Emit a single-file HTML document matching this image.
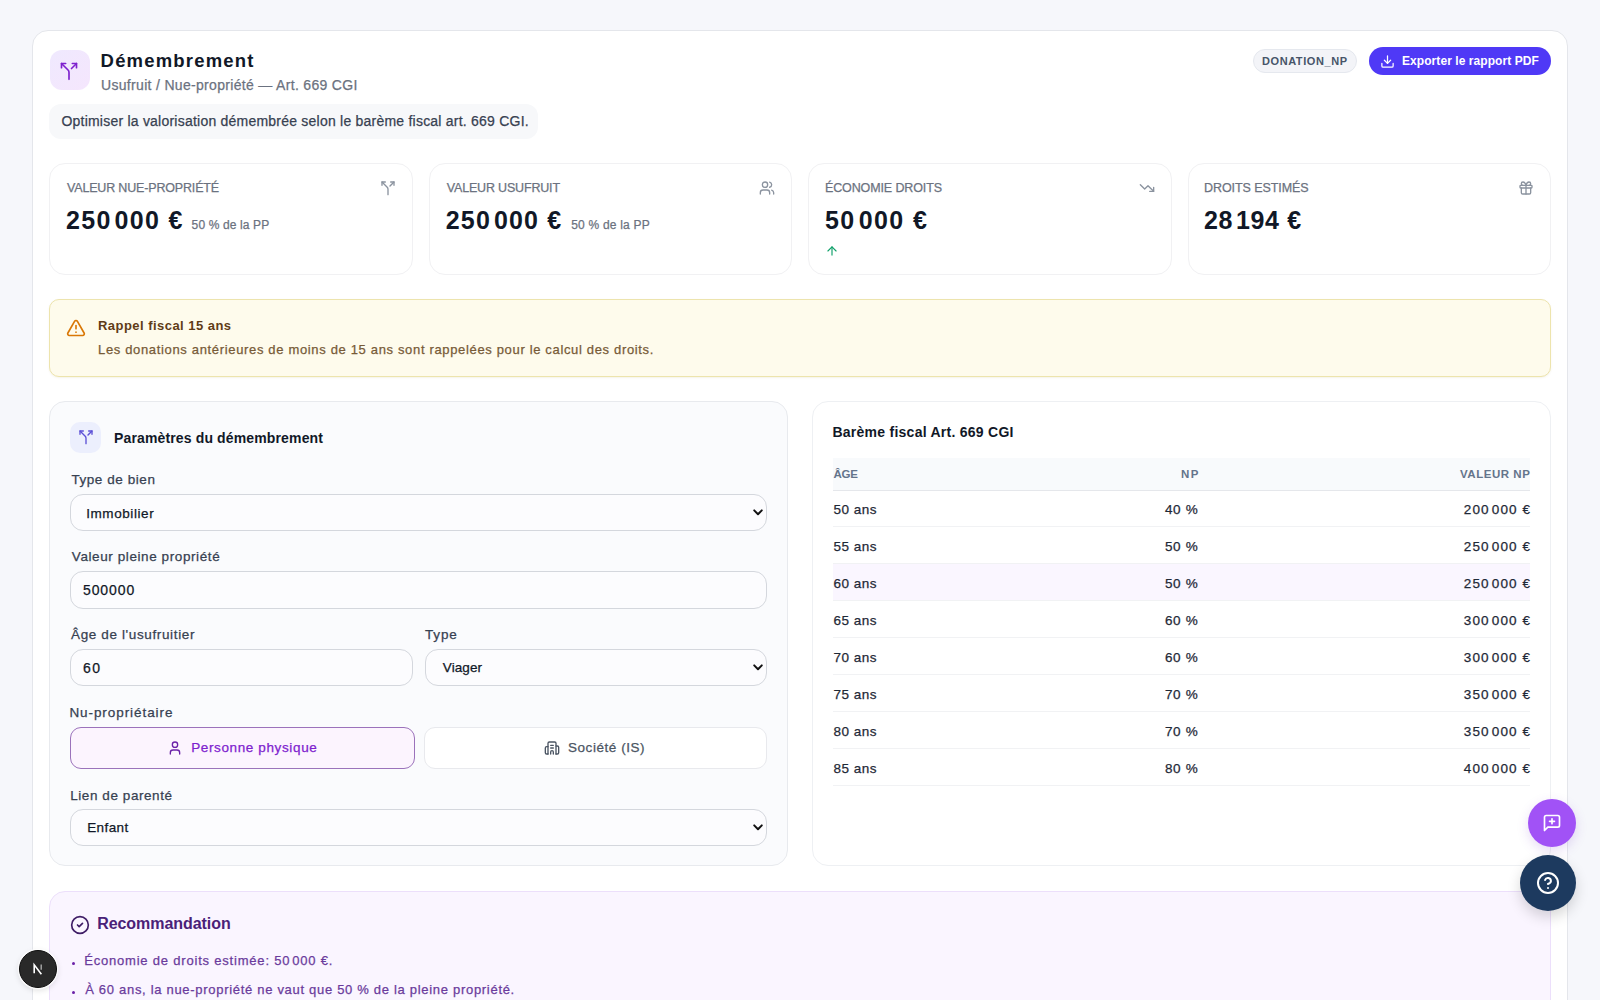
<!DOCTYPE html>
<html lang="fr">
<head>
<meta charset="utf-8">
<title>Démembrement</title>
<style>
*{box-sizing:border-box;margin:0;padding:0}
html,body{width:1600px;height:1000px;overflow:hidden}
body{background:#f6f7fb;font-family:"Liberation Sans",sans-serif;color:#111827;position:relative}
.a{position:absolute}
svg{display:block;position:absolute;overflow:visible}
.t{position:absolute;line-height:1;white-space:nowrap}
.t.m{-webkit-text-stroke:0.25px currentColor}
.t i.ns{display:inline-block;width:3px}
.t i.ns2{display:inline-block;width:2px}
.main{left:32px;top:30px;width:1536px;height:1010px;background:#fff;border:1px solid #e4e6eb;border-radius:16px}
.hicon{left:50px;top:50px;width:40px;height:40px;border-radius:12px;background:linear-gradient(135deg,#efe9fe,#f5e6fd)}
.pill{left:49px;top:103.5px;width:489px;height:35px;border-radius:12px;background:#f7f8fa}
.badge{left:1253px;top:49px;width:104px;height:24px;border-radius:12px;background:#f3f4f8;border:1px solid #e5e8ee}
.export{left:1369px;top:47px;width:182px;height:28px;border-radius:14px;background:#4f39f6}
.kpi{top:163px;width:363.5px;height:112px;border:1px solid #f1f1f3;border-radius:16px;background:#fff}
.alert{left:49px;top:299px;width:1502px;height:78px;background:#fefbec;border:1px solid #ede4ad;border-radius:10px;box-shadow:0 1px 2px rgba(160,140,40,.10)}
.params{left:49px;top:401px;width:739px;height:465px;background:#fafbfd;border:1px solid #e8eaee;border-radius:16px}
.picon{left:70px;top:422px;width:31px;height:31px;border-radius:10px;background:#eceffd}
.field{background:#fcfcfe;border:1px solid #d4d7dd;border-radius:13px}
.btn{border:1px solid #e8e9ed;background:#fff;border-radius:11px}
.btn.on{border-color:#9b72bb;background:#fcf4fe}
.table{left:812px;top:401px;width:739px;height:465px;background:#fff;border:1px solid #eef0f3;border-radius:16px}
.thead{left:833px;top:458px;width:697px;height:33px;background:#f8fafc;border-bottom:1px solid #e5e7eb}
.row{left:833px;width:697px;height:37px;border-bottom:1px solid #f1f2f4}
.row.hl{background:#faf6ff}
.reco{left:49px;top:891px;width:1502px;height:150px;background:#faf5ff;border:1px solid #ecdffb;border-radius:16px}
.dot{width:3px;height:3px;border-radius:50%;background:#6b21a8}
.fab1{left:1528px;top:799px;width:48px;height:48px;border-radius:50%;background:#a152f6;box-shadow:0 4px 12px rgba(120,60,200,.18)}
.fab2{left:1520px;top:855px;width:56px;height:56px;border-radius:50%;background:#1d3a5f;box-shadow:0 6px 14px rgba(0,0,0,.16)}
.nx{left:19px;top:950px;width:38px;height:38px;border-radius:50%;background:#292929;border:1px solid #0d0d0d;box-shadow:0 0 0 1.5px rgba(255,255,255,.7),0 2px 6px rgba(0,0,0,.15)}
</style>
</head>
<body>
<div class="a main"></div>

<div class="a hicon"></div>
<svg style="left:59px;top:60.5px" width="20" height="20" viewBox="0 0 24 24" fill="none" stroke="#7e22ce" stroke-width="2" stroke-linecap="round" stroke-linejoin="round"><path d="M16 3h5v5"/><path d="M8 3H3v5"/><path d="M12 22v-8.3a4 4 0 0 0-1.172-2.872L3 3"/><path d="m15 9 6-6"/></svg>
<div class="a pill"></div>
<div class="a badge"></div>
<div class="a export"></div>
<svg style="left:1380px;top:54px" width="15" height="15" viewBox="0 0 24 24" fill="none" stroke="#fff" stroke-width="2" stroke-linecap="round" stroke-linejoin="round"><path d="M21 15v4a2 2 0 0 1-2 2H5a2 2 0 0 1-2-2v-4"/><path d="m7 10 5 5 5-5"/><path d="M12 15V3"/></svg>

<div class="a kpi" style="left:49px"></div>
<div class="a kpi" style="left:428.5px"></div>
<div class="a kpi" style="left:808px"></div>
<div class="a kpi" style="left:1187.5px"></div>
<svg style="left:379.5px;top:179.5px" width="16" height="16" viewBox="0 0 24 24" fill="none" stroke="#8b939f" stroke-width="2" stroke-linecap="round" stroke-linejoin="round"><path d="M16 3h5v5"/><path d="M8 3H3v5"/><path d="M12 22v-8.3a4 4 0 0 0-1.172-2.872L3 3"/><path d="m15 9 6-6"/></svg>
<svg style="left:759.2px;top:179.8px" width="16" height="16" viewBox="0 0 24 24" fill="none" stroke="#8b939f" stroke-width="2" stroke-linecap="round" stroke-linejoin="round"><path d="M16 21v-2a4 4 0 0 0-4-4H6a4 4 0 0 0-4 4v2"/><circle cx="9" cy="7" r="4"/><path d="M22 21v-2a4 4 0 0 0-3-3.87"/><path d="M16 3.13a4 4 0 0 1 0 7.75"/></svg>
<svg style="left:1138.6px;top:179.8px" width="16" height="16" viewBox="0 0 24 24" fill="none" stroke="#8b939f" stroke-width="2" stroke-linecap="round" stroke-linejoin="round"><path d="m22 17-8.5-8.5-5 5L2 7"/><path d="M16 17h6v-6"/></svg>
<svg style="left:1518px;top:179.5px" width="16" height="16" viewBox="0 0 24 24" fill="none" stroke="#8b939f" stroke-width="2" stroke-linecap="round" stroke-linejoin="round"><rect x="3" y="8" width="18" height="4" rx="1"/><path d="M12 8v13"/><path d="M19 12v7a2 2 0 0 1-2 2H7a2 2 0 0 1-2-2v-7"/><path d="M7.5 8a2.5 2.5 0 0 1 0-5A4.8 8 0 0 1 12 8a4.8 8 0 0 1 4.5-5 2.5 2.5 0 0 1 0 5"/></svg>
<svg style="left:825px;top:243.8px" width="14" height="14" viewBox="0 0 24 24" fill="none" stroke="#10a06a" stroke-width="2" stroke-linecap="round" stroke-linejoin="round"><path d="m5 12 7-7 7 7"/><path d="M12 19V5"/></svg>

<div class="a alert"></div>
<svg style="left:66px;top:317.7px" width="20" height="20" viewBox="0 0 24 24" fill="none" stroke="#d97706" stroke-width="2" stroke-linecap="round" stroke-linejoin="round"><path d="m21.73 18-8-14a2 2 0 0 0-3.48 0l-8 14A2 2 0 0 0 4 21h16a2 2 0 0 0 1.73-3"/><path d="M12 9v4"/><path d="M12 17h.01"/></svg>

<div class="a params"></div>
<div class="a picon"></div>
<svg style="left:77.5px;top:429.3px" width="16" height="16" viewBox="0 0 24 24" fill="none" stroke="#5b4fd6" stroke-width="2" stroke-linecap="round" stroke-linejoin="round"><path d="M16 3h5v5"/><path d="M8 3H3v5"/><path d="M12 22v-8.3a4 4 0 0 0-1.172-2.872L3 3"/><path d="m15 9 6-6"/></svg>
<div class="a field" style="left:70px;top:494px;width:697px;height:37px"></div>
<div class="a field" style="left:70px;top:571px;width:697px;height:38px"></div>
<div class="a field" style="left:70px;top:649px;width:342.5px;height:36.5px"></div>
<div class="a field" style="left:425px;top:649px;width:342px;height:36.5px"></div>
<div class="a field" style="left:70px;top:809px;width:697px;height:37px"></div>
<svg style="left:753px;top:508.5px" width="10" height="7" viewBox="0 0 10 7" fill="none" stroke="#111" stroke-width="2" stroke-linecap="round" stroke-linejoin="round"><path d="M1.2 1.4 5 5.2 8.8 1.4"/></svg>
<svg style="left:753px;top:664px" width="10" height="7" viewBox="0 0 10 7" fill="none" stroke="#111" stroke-width="2" stroke-linecap="round" stroke-linejoin="round"><path d="M1.2 1.4 5 5.2 8.8 1.4"/></svg>
<svg style="left:753px;top:824px" width="10" height="7" viewBox="0 0 10 7" fill="none" stroke="#111" stroke-width="2" stroke-linecap="round" stroke-linejoin="round"><path d="M1.2 1.4 5 5.2 8.8 1.4"/></svg>
<div class="a btn on" style="left:70px;top:727px;width:345px;height:42px"></div>
<div class="a btn" style="left:423.5px;top:727px;width:343.5px;height:41.5px"></div>
<svg style="left:167.3px;top:740.2px" width="16" height="16" viewBox="0 0 24 24" fill="none" stroke="#6b21a8" stroke-width="2" stroke-linecap="round" stroke-linejoin="round"><path d="M19 21v-2a4 4 0 0 0-4-4H9a4 4 0 0 0-4 4v2"/><circle cx="12" cy="7" r="4"/></svg>
<svg style="left:544.2px;top:740px" width="16" height="16" viewBox="0 0 24 24" fill="none" stroke="#4b5563" stroke-width="2" stroke-linecap="round" stroke-linejoin="round"><path d="M10 12h4"/><path d="M10 8h4"/><path d="M14 21v-3a2 2 0 0 0-4 0v3"/><path d="M6 10H4a2 2 0 0 0-2 2v7a2 2 0 0 0 2 2h2"/><path d="M18 9h2a2 2 0 0 1 2 2v8a2 2 0 0 1-2 2h-2"/><path d="M6 21V5a2 2 0 0 1 2-2h8a2 2 0 0 1 2 2v16"/></svg>

<div class="a table"></div>
<div class="a thead"></div>
<div class="a row" style="top:490px"></div>
<div class="a row" style="top:527px"></div>
<div class="a row hl" style="top:564px"></div>
<div class="a row" style="top:601px"></div>
<div class="a row" style="top:638px"></div>
<div class="a row" style="top:675px"></div>
<div class="a row" style="top:712px"></div>
<div class="a row" style="top:749px"></div>

<div class="a reco"></div>
<svg style="left:70.4px;top:915.4px" width="20" height="20" viewBox="0 0 24 24" fill="none" stroke="#3f1d66" stroke-width="2" stroke-linecap="round" stroke-linejoin="round"><circle cx="12" cy="12" r="10"/><path d="m9 12 2 2 4-4"/></svg>
<div class="a dot" style="left:72px;top:961.5px"></div>
<div class="a dot" style="left:72px;top:991.3px"></div>

<div class="t" id="title" style="top:51.64px;font-size:18.5px;font-weight:bold;color:#111827;letter-spacing:1.182px;left:100.60px;">Démembrement</div>
<div class="t m" id="subtitle" style="top:78.05px;font-size:14px;font-weight:normal;color:#6b7280;letter-spacing:0.316px;left:101.00px;">Usufruit / Nue-propriété — Art. 669 CGI</div>
<div class="t m" id="pill" style="top:114.05px;font-size:14px;font-weight:normal;color:#374151;letter-spacing:0.225px;left:61.40px;">Optimiser la valorisation démembrée selon le barème fiscal art. 669 CGI.</div>
<div class="t" id="badge" style="top:55.59px;font-size:11px;font-weight:bold;color:#475569;letter-spacing:0.575px;left:1262.00px;">DONATION_NP</div>
<div class="t" id="export" style="top:54.74px;font-size:12px;font-weight:bold;color:#ffffff;letter-spacing:0.068px;left:1402.00px;">Exporter le rapport PDF</div>
<div class="t m" id="k1lab" style="top:182.32px;font-size:12.5px;font-weight:normal;color:#6b7280;letter-spacing:-0.171px;left:67.00px;">VALEUR NUE-PROPRIÉTÉ</div>
<div class="t" id="k1val" style="top:208.44px;font-size:25px;font-weight:bold;color:#111827;letter-spacing:1.286px;left:66.00px;">250<i class="ns"></i>000 €</div>
<div class="t m" id="k1sub" style="top:219.44px;font-size:12px;font-weight:normal;color:#6b7280;letter-spacing:0.125px;left:191.60px;">50 % de la PP</div>
<div class="t m" id="k2lab" style="top:182.32px;font-size:12.5px;font-weight:normal;color:#6b7280;letter-spacing:-0.179px;left:446.80px;">VALEUR USUFRUIT</div>
<div class="t" id="k2val" style="top:208.44px;font-size:25px;font-weight:bold;color:#111827;letter-spacing:1.143px;left:445.80px;">250<i class="ns"></i>000 €</div>
<div class="t m" id="k2sub" style="top:219.44px;font-size:12px;font-weight:normal;color:#6b7280;letter-spacing:0.208px;left:571.20px;">50 % de la PP</div>
<div class="t m" id="k3lab" style="top:182.32px;font-size:12.5px;font-weight:normal;color:#6b7280;letter-spacing:-0.125px;left:825.00px;">ÉCONOMIE DROITS</div>
<div class="t" id="k3val" style="top:208.44px;font-size:25px;font-weight:bold;color:#111827;letter-spacing:1.417px;left:825.00px;">50<i class="ns"></i>000 €</div>
<div class="t m" id="k4lab" style="top:182.32px;font-size:12.5px;font-weight:normal;color:#6b7280;letter-spacing:-0.077px;left:1204.00px;">DROITS ESTIMÉS</div>
<div class="t" id="k4val" style="top:208.44px;font-size:25px;font-weight:bold;color:#111827;letter-spacing:0.625px;left:1204.00px;">28<i class="ns"></i>194 €</div>
<div class="t" id="atitle" style="top:319.30px;font-size:13px;font-weight:bold;color:#5f3b17;letter-spacing:0.461px;left:98.00px;">Rappel fiscal 15 ans</div>
<div class="t m" id="abody" style="top:343.20px;font-size:13px;font-weight:normal;color:#775a37;letter-spacing:0.659px;left:98.00px;">Les donations antérieures de moins de 15 ans sont rappelées pour le calcul des droits.</div>
<div class="t" id="ptitle" style="top:431.05px;font-size:14px;font-weight:bold;color:#111827;letter-spacing:0.140px;left:114.00px;">Paramètres du démembrement</div>
<div class="t m" id="lab1" style="top:472.92px;font-size:13.5px;font-weight:normal;color:#374151;letter-spacing:0.568px;left:71.40px;">Type de bien</div>
<div class="t m" id="imm" style="top:507.27px;font-size:13.5px;font-weight:normal;color:#111827;letter-spacing:0.583px;left:86.20px;">Immobilier</div>
<div class="t m" id="lab2" style="top:550.07px;font-size:13.5px;font-weight:normal;color:#374151;letter-spacing:0.591px;left:71.80px;">Valeur pleine propriété</div>
<div class="t m" id="v500" style="top:582.85px;font-size:14px;font-weight:normal;color:#111827;letter-spacing:0.900px;left:83.00px;">500000</div>
<div class="t m" id="lab3" style="top:628.07px;font-size:13.5px;font-weight:normal;color:#374151;letter-spacing:0.632px;left:71.00px;">Âge de l'usufruitier</div>
<div class="t m" id="v60" style="top:660.65px;font-size:14px;font-weight:normal;color:#111827;letter-spacing:1.500px;left:83.00px;">60</div>
<div class="t m" id="lab4" style="top:628.07px;font-size:13.5px;font-weight:normal;color:#374151;letter-spacing:0.833px;left:425.00px;">Type</div>
<div class="t m" id="viager" style="top:661.07px;font-size:13.5px;font-weight:normal;color:#111827;letter-spacing:0.100px;left:442.80px;">Viager</div>
<div class="t m" id="lab5" style="top:706.07px;font-size:13.5px;font-weight:normal;color:#374151;letter-spacing:0.929px;left:69.40px;">Nu-propriétaire</div>
<div class="t m" id="pp" style="top:741.07px;font-size:13.5px;font-weight:normal;color:#7e22ce;letter-spacing:0.625px;left:191.20px;">Personne physique</div>
<div class="t m" id="soc" style="top:740.97px;font-size:13.5px;font-weight:normal;color:#4b5563;letter-spacing:0.545px;left:568.00px;">Société (IS)</div>
<div class="t m" id="lab6" style="top:788.57px;font-size:13.5px;font-weight:normal;color:#374151;letter-spacing:0.571px;left:70.20px;">Lien de parenté</div>
<div class="t m" id="enfant" style="top:821.07px;font-size:13.5px;font-weight:normal;color:#111827;letter-spacing:0.400px;left:87.20px;">Enfant</div>
<div class="t" id="ttitle" style="top:425.05px;font-size:14px;font-weight:bold;color:#111827;letter-spacing:0.260px;left:832.40px;">Barème fiscal Art. 669 CGI</div>
<div class="t" id="th1" style="top:469.17px;font-size:11.5px;font-weight:bold;color:#64748b;letter-spacing:-0.250px;left:833.40px;">ÂGE</div>
<div class="t" id="th2" style="top:469.17px;font-size:11.5px;font-weight:bold;color:#64748b;letter-spacing:1.500px;left:1181.00px;">NP</div>
<div class="t" id="th3" style="top:469.17px;font-size:11.5px;font-weight:bold;color:#64748b;letter-spacing:0.531px;left:1460.00px;">VALEUR NP</div>
<div class="t" id="rtitle" style="top:915.96px;font-size:16px;font-weight:bold;color:#4a2178;letter-spacing:-0.058px;left:97.20px;">Recommandation</div>
<div class="t m" id="rli1" style="top:953.60px;font-size:13px;font-weight:normal;color:#6a3b9c;letter-spacing:0.800px;left:84.20px;">Économie de droits estimée: 50<i class="ns2"></i>000 €.</div>
<div class="t m" id="rli2" style="top:983.40px;font-size:13px;font-weight:normal;color:#6a3b9c;letter-spacing:0.697px;left:85.20px;">À 60 ans, la nue-propriété ne vaut que 50 % de la pleine propriété.</div>
<div class="t m" id="ra0" style="top:503.47px;font-size:13.5px;font-weight:normal;color:#1f2937;letter-spacing:0.500px;left:833.40px;">50 ans</div>
<div class="t m" id="rn0" style="top:503.47px;font-size:13.5px;font-weight:normal;color:#1f2937;letter-spacing:0.667px;right:401.67px;">40 %</div>
<div class="t m" id="rv0" style="top:503.47px;font-size:13.5px;font-weight:normal;color:#1f2937;letter-spacing:1.143px;right:68.74px;">200<i class="ns2"></i>000 €</div>
<div class="t m" id="ra1" style="top:540.47px;font-size:13.5px;font-weight:normal;color:#1f2937;letter-spacing:0.500px;left:833.40px;">55 ans</div>
<div class="t m" id="rn1" style="top:540.47px;font-size:13.5px;font-weight:normal;color:#1f2937;letter-spacing:0.667px;right:401.67px;">50 %</div>
<div class="t m" id="rv1" style="top:540.47px;font-size:13.5px;font-weight:normal;color:#1f2937;letter-spacing:1.143px;right:68.74px;">250<i class="ns2"></i>000 €</div>
<div class="t m" id="ra2" style="top:577.47px;font-size:13.5px;font-weight:normal;color:#1f2937;letter-spacing:0.500px;left:833.40px;">60 ans</div>
<div class="t m" id="rn2" style="top:577.47px;font-size:13.5px;font-weight:normal;color:#1f2937;letter-spacing:0.667px;right:401.67px;">50 %</div>
<div class="t m" id="rv2" style="top:577.47px;font-size:13.5px;font-weight:normal;color:#1f2937;letter-spacing:1.143px;right:68.74px;">250<i class="ns2"></i>000 €</div>
<div class="t m" id="ra3" style="top:614.47px;font-size:13.5px;font-weight:normal;color:#1f2937;letter-spacing:0.500px;left:833.40px;">65 ans</div>
<div class="t m" id="rn3" style="top:614.47px;font-size:13.5px;font-weight:normal;color:#1f2937;letter-spacing:0.667px;right:401.67px;">60 %</div>
<div class="t m" id="rv3" style="top:614.47px;font-size:13.5px;font-weight:normal;color:#1f2937;letter-spacing:1.143px;right:68.74px;">300<i class="ns2"></i>000 €</div>
<div class="t m" id="ra4" style="top:651.47px;font-size:13.5px;font-weight:normal;color:#1f2937;letter-spacing:0.500px;left:833.40px;">70 ans</div>
<div class="t m" id="rn4" style="top:651.47px;font-size:13.5px;font-weight:normal;color:#1f2937;letter-spacing:0.667px;right:401.67px;">60 %</div>
<div class="t m" id="rv4" style="top:651.47px;font-size:13.5px;font-weight:normal;color:#1f2937;letter-spacing:1.143px;right:68.74px;">300<i class="ns2"></i>000 €</div>
<div class="t m" id="ra5" style="top:688.47px;font-size:13.5px;font-weight:normal;color:#1f2937;letter-spacing:0.500px;left:833.40px;">75 ans</div>
<div class="t m" id="rn5" style="top:688.47px;font-size:13.5px;font-weight:normal;color:#1f2937;letter-spacing:0.667px;right:401.67px;">70 %</div>
<div class="t m" id="rv5" style="top:688.47px;font-size:13.5px;font-weight:normal;color:#1f2937;letter-spacing:1.143px;right:68.74px;">350<i class="ns2"></i>000 €</div>
<div class="t m" id="ra6" style="top:725.47px;font-size:13.5px;font-weight:normal;color:#1f2937;letter-spacing:0.500px;left:833.40px;">80 ans</div>
<div class="t m" id="rn6" style="top:725.47px;font-size:13.5px;font-weight:normal;color:#1f2937;letter-spacing:0.667px;right:401.67px;">70 %</div>
<div class="t m" id="rv6" style="top:725.47px;font-size:13.5px;font-weight:normal;color:#1f2937;letter-spacing:1.143px;right:68.74px;">350<i class="ns2"></i>000 €</div>
<div class="t m" id="ra7" style="top:762.47px;font-size:13.5px;font-weight:normal;color:#1f2937;letter-spacing:0.500px;left:833.40px;">85 ans</div>
<div class="t m" id="rn7" style="top:762.47px;font-size:13.5px;font-weight:normal;color:#1f2937;letter-spacing:0.667px;right:401.67px;">80 %</div>
<div class="t m" id="rv7" style="top:762.47px;font-size:13.5px;font-weight:normal;color:#1f2937;letter-spacing:1.143px;right:68.74px;">400<i class="ns2"></i>000 €</div>

<div class="a fab1"></div>
<svg style="left:1542px;top:813px" width="20" height="20" viewBox="0 0 24 24" fill="none" stroke="#fff" stroke-width="2" stroke-linecap="round" stroke-linejoin="round"><path d="M21 15a2 2 0 0 1-2 2H7l-4 4V5a2 2 0 0 1 2-2h14a2 2 0 0 1 2 2z"/><path d="M12 7v6"/><path d="M9 10h6"/></svg>
<div class="a fab2"></div>
<svg style="left:1536px;top:871px" width="24" height="24" viewBox="0 0 24 24" fill="none" stroke="#fff" stroke-width="2" stroke-linecap="round" stroke-linejoin="round"><circle cx="12" cy="12" r="10"/><path d="M9.09 9a3 3 0 0 1 5.83 1c0 2-3 3-3 3"/><path d="M12 17h.01"/></svg>
<div class="a nx"></div>
<svg style="left:29px;top:960px" width="18" height="18" viewBox="0 0 18 18" fill="none"><path d="M5.2 13.2V4.8l7.2 9.4" stroke="#fff" stroke-width="1.6"/><path d="M12.2 4.6v5.2" stroke="#fff" stroke-width="1.4" opacity=".6"/></svg>
</body>
</html>
